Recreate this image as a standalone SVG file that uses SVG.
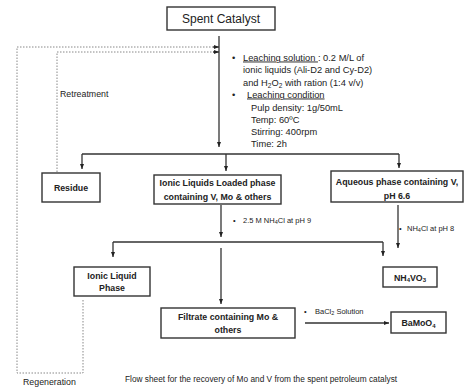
<svg xmlns="http://www.w3.org/2000/svg" width="466" height="389" viewBox="0 0 466 389">
<defs>
<style>
text{font-family:"Liberation Sans",Arial,sans-serif;fill:#222}
.box{fill:#fff;stroke:#333;stroke-width:1.4}
.b{font-weight:bold;font-size:8.8px;text-anchor:middle}
.n{font-size:9.3px}
.s{font-size:7.5px}
.ln{fill:none;stroke:#333;stroke-width:1.3}
.dot{fill:none;stroke:#888;stroke-width:1;stroke-dasharray:1.5 1.5}
</style>
<marker id="ah" viewBox="0 0 10 10" refX="10" refY="5" markerWidth="5" markerHeight="5" orient="auto" markerUnits="userSpaceOnUse"><path d="M0,1 L10,5 L0,9 z" fill="#222"/></marker>
</defs>
<rect width="466" height="389" fill="#fff"/>
<g id="connectors">
<path class="dot" d="M83,300 V373 H17 V47 H214"/>
<path class="dot" d="M57,172 V52 H214"/>
<path class="ln" d="M213,47 H219" marker-end="url(#ah)"/>
<path class="ln" d="M213,52 H219" marker-end="url(#ah)"/>
<path class="ln" d="M219,36 V147" marker-end="url(#ah)"/>
<path class="ln" d="M82,154 H399"/>
<path class="ln" d="M82,154 V169" marker-end="url(#ah)"/>
<path class="ln" d="M226,154 V171" marker-end="url(#ah)"/>
<path class="ln" d="M399,154 V168" marker-end="url(#ah)"/>
<path class="ln" d="M221,205 V237" marker-end="url(#ah)"/>
<path class="ln" d="M113,242 H383"/>
<path class="ln" d="M113,242 V257" marker-end="url(#ah)"/>
<path class="ln" d="M383,242 V256" marker-end="url(#ah)"/>
<path class="ln" d="M221,248 V304" marker-end="url(#ah)"/>
<path class="ln" d="M398,205 V248" marker-end="url(#ah)"/>
<path class="ln" d="M305,323 H389" marker-end="url(#ah)"/>
</g>
<g id="spent-catalyst">
<rect class="box" x="167" y="7" width="108" height="23"/>
<text x="221" y="23" font-size="12" text-anchor="middle">Spent Catalyst</text>
</g>
<g id="notes" class="n">
<text x="232" y="60.5">•</text>
<text x="243" y="60.5"><tspan text-decoration="underline">Leaching solution </tspan>: 0.2 M/L of</text>
<text x="243" y="72.5">ionic liquids (Ali-D2 and Cy-D2)</text>
<text x="243" y="85.5">and H<tspan font-size="6.5" dy="2">2</tspan><tspan dy="-2">O</tspan><tspan font-size="6.5" dy="2">2</tspan><tspan dy="-2"> with ration (1:4 v/v)</tspan></text>
<text x="232" y="97.5">•</text>
<text x="247" y="97.5" text-decoration="underline">Leaching condition</text>
<text x="251" y="110.5">Pulp density: 1g/50mL</text>
<text x="251" y="122.5">Temp: 60ºC</text>
<text x="251" y="134.5">Stirring: 400rpm</text>
<text x="251" y="146.5">Time: 2h</text>
</g>
<g id="retreatment"><text x="60" y="97" font-size="8.8">Retreatment</text></g>
<g id="regeneration"><text x="23" y="385" font-size="8.8">Regeneration</text></g>
<g id="residue">
<rect class="box" x="42" y="173" width="58" height="29"/>
<text class="b" x="71" y="191">Residue</text>
</g>
<g id="ionic-loaded">
<rect class="box" x="154" y="175" width="127" height="29"/>
<text class="b" x="217.5" y="186">Ionic Liquids Loaded phase</text>
<text class="b" x="217.5" y="200">containing V, Mo &amp; others</text>
</g>
<g id="aqueous">
<rect class="box" x="331" y="171" width="132" height="31"/>
<text class="b" x="397" y="185">Aqueous phase containing V,</text>
<text class="b" x="397" y="199">pH 6.6</text>
</g>
<g id="label-nh4cl-9" class="s">
<text x="233" y="222.5">•</text>
<text x="243" y="222.5">2.5 M NH<tspan font-size="5.5" dy="1.5">4</tspan><tspan dy="-1.5">Cl at pH 9</tspan></text>
</g>
<g id="label-nh4cl-8" class="s">
<text x="399" y="230.5">•</text>
<text x="407" y="230.5">NH<tspan font-size="5.5" dy="1.5">4</tspan><tspan dy="-1.5">Cl at pH 8</tspan></text>
</g>
<g id="ionic-liquid-phase">
<rect class="box" x="74" y="267" width="76" height="29"/>
<text class="b" x="112" y="279">Ionic Liquid</text>
<text class="b" x="112" y="291">Phase</text>
</g>
<g id="nh4vo3">
<rect class="box" x="383" y="267" width="54" height="20"/>
<text class="b" x="410" y="280.5">NH<tspan font-size="6" dy="1.5">4</tspan><tspan dy="-1.5">VO</tspan><tspan font-size="6" dy="1.5">3</tspan></text>
</g>
<g id="filtrate">
<rect class="box" x="161" y="308" width="134" height="30"/>
<text class="b" x="228" y="320">Filtrate containing Mo &amp;</text>
<text class="b" x="228" y="333">others</text>
</g>
<g id="label-bacl2" class="s">
<text x="304" y="313.5">•</text>
<text x="315" y="313.5">BaCl<tspan font-size="5.5" dy="1.5">2</tspan><tspan dy="-1.5"> Solution</tspan></text>
</g>
<g id="bamoo4">
<rect class="box" x="391" y="312" width="55" height="21"/>
<text class="b" x="418.5" y="326">BaMoO<tspan font-size="6" dy="1.5">4</tspan></text>
</g>
<g id="caption"><text x="125" y="382" font-size="8.3">Flow sheet for the recovery of Mo and V from the spent petroleum catalyst</text></g>
</svg>
